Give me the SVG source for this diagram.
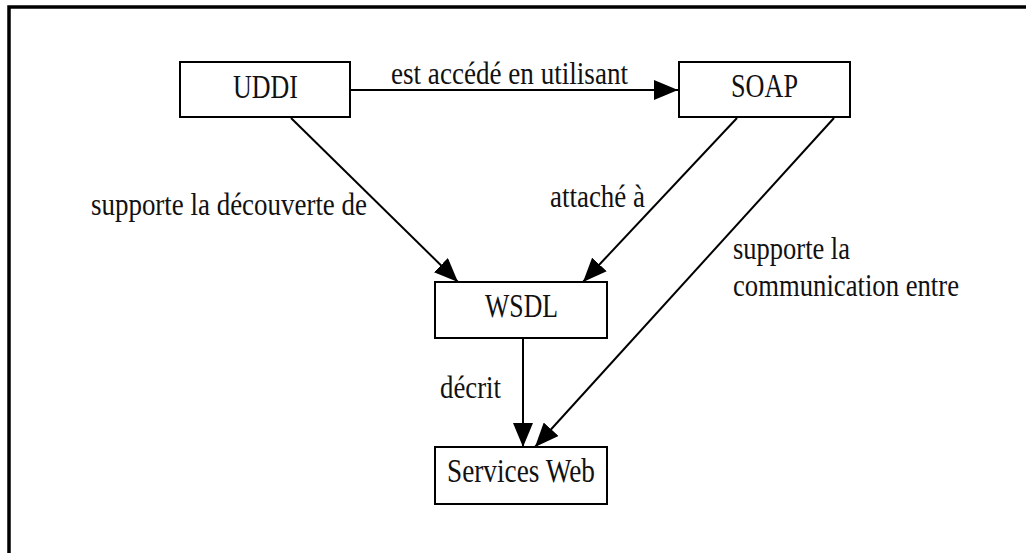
<svg xmlns="http://www.w3.org/2000/svg" width="1026" height="553" viewBox="0 0 1026 553">
  <style>
    .frame { fill: none; stroke: #000; stroke-width: 3.5; }
    .box { fill: #fff; stroke: #000; stroke-width: 2; }
    .edge { fill: none; stroke: #000; stroke-width: 2; }
    text { fill: #111; }
  </style>
  <defs>
    <marker id="arrow" markerUnits="userSpaceOnUse" markerWidth="24" markerHeight="20" refX="24" refY="10" orient="auto">
      <path d="M0,0 L24,10 L0,20 z" fill="#000"/>
    </marker>
  </defs>

  <rect width="1026" height="553" fill="#fff"/>
  <!-- outer frame (right and bottom edges fall outside the canvas) -->
  <rect class="frame" x="9" y="7" width="1100" height="600"/>

  <g id="connectors" font-family="'Liberation Serif', 'Times New Roman', serif" font-size="31">
    <line class="edge" x1="350" y1="90" x2="678" y2="90" marker-end="url(#arrow)"/>
    <line class="edge" x1="291" y1="118" x2="458" y2="282" marker-end="url(#arrow)"/>
    <line class="edge" x1="737" y1="118" x2="583" y2="282" marker-end="url(#arrow)"/>
    <line class="edge" x1="834" y1="118" x2="535" y2="447" marker-end="url(#arrow)"/>
    <line class="edge" x1="523" y1="338" x2="523" y2="447" marker-end="url(#arrow)"/>
    <text x="391" y="84" textLength="237" lengthAdjust="spacingAndGlyphs">est accédé en utilisant</text>
    <text x="91" y="215" textLength="276" lengthAdjust="spacingAndGlyphs">supporte la découverte de</text>
    <text x="550" y="207" textLength="95" lengthAdjust="spacingAndGlyphs">attaché à</text>
    <text x="733" y="259" textLength="117" lengthAdjust="spacingAndGlyphs">supporte la</text>
    <text x="733" y="296" textLength="226" lengthAdjust="spacingAndGlyphs">communication entre</text>
    <text x="440" y="398" textLength="61" lengthAdjust="spacingAndGlyphs">décrit</text>
  </g>

  <g id="uddi" font-family="'Liberation Serif', 'Times New Roman', serif" font-size="34">
    <rect class="box" x="180" y="62" width="170" height="55"/>
    <text x="233" y="98" textLength="65" lengthAdjust="spacingAndGlyphs">UDDI</text>
  </g>
  <g id="soap" font-family="'Liberation Serif', 'Times New Roman', serif" font-size="34">
    <rect class="box" x="679" y="62" width="171" height="55"/>
    <text x="731" y="97" textLength="67" lengthAdjust="spacingAndGlyphs">SOAP</text>
  </g>
  <g id="wsdl" font-family="'Liberation Serif', 'Times New Roman', serif" font-size="34">
    <rect class="box" x="435" y="282" width="172" height="56"/>
    <text x="485" y="317" textLength="73" lengthAdjust="spacingAndGlyphs">WSDL</text>
  </g>
  <g id="services-web" font-family="'Liberation Serif', 'Times New Roman', serif" font-size="34">
    <rect class="box" x="435" y="447" width="172" height="57"/>
    <text x="447" y="482" textLength="148" lengthAdjust="spacingAndGlyphs">Services Web</text>
  </g>
</svg>
